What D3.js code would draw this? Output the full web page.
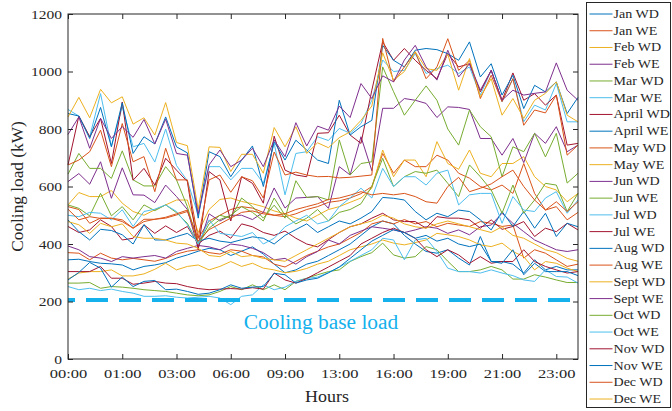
<!DOCTYPE html>
<html>
<head>
<meta charset="utf-8">
<script src="https://cdn.jsdelivr.net/npm/d3@7"></script>
<style>
  body { margin: 0; background: #fff; }
  svg text { font-family: 'Liberation Serif', 'DejaVu Serif', serif; fill: #262626; }
</style>
</head>
<body>
<div id="chart"></div>
<script>
// tick labels on the x axis (one every 5 samples) and y ticks
const hourLabels = ["00:00", "01:00", "03:00", "06:00", "09:00", "13:00", "16:00", "19:00", "21:00", "23:00"];
const loadTicks = [0, 200, 400, 600, 800, 1000, 1200];
const baseLoad = 205;

const seriesNames = ["Jan WD", "Jan WE", "Feb WD", "Feb WE", "Mar WD", "Mar WE", "April WD", "April WE",
  "May WD", "May WE", "Jun WD", "Jun WE", "Jul WD", "Jul WE", "Aug WD", "Aug WE",
  "Sept WD", "Sept WE", "Oct WD", "Oct WE", "Nov WD", "Nov WE", "Dec WD", "Dec WE"];

// matlab default colour order, cycling
const palette = ["#0072BD", "#D95319", "#EDB120", "#7E2F8E", "#77AC30", "#4DBEEE", "#A2142F"];

const janWD = [345, 347, 339, 333, 331, 327, 310, 322, 327, 335, 351, 362, 375, 385, 380, 360, 375, 390, 365, 330, 300, 310, 330, 340, 360, 380, 400, 430, 460, 480, 470, 430, 400, 374, 368, 380, 351, 327, 426, 339, 339, 330, 299, 345, 310, 322, 310, 310];
const janWE = [370, 368, 345, 368, 351, 345, 350, 345, 340, 350, 365, 375, 380, 370, 365, 380, 375, 360, 355, 330, 320, 340, 360, 375, 390, 400, 420, 440, 470, 480, 470, 485, 470, 478, 460, 472, 466, 461, 478, 472, 461, 466, 351, 380, 368, 345, 322, 330];
const febWD = [278, 299, 304, 304, 310, 289, 289, 296, 312, 333, 310, 322, 327, 310, 322, 339, 322, 333, 316, 310, 300, 305, 315, 330, 340, 360, 380, 390, 400, 414, 403, 397, 405, 414, 437, 432, 426, 414, 397, 391, 403, 374, 356, 310, 339, 333, 316, 304];
const febWE = [393, 380, 356, 351, 339, 356, 351, 356, 360, 351, 374, 385, 395, 390, 380, 400, 395, 385, 370, 345, 350, 330, 356, 374, 414, 400, 430, 445, 460, 455, 449, 440, 449, 460, 455, 437, 449, 432, 460, 466, 507, 472, 443, 414, 397, 380, 374, 380];
const marWD = [264, 264, 266, 246, 252, 250, 246, 241, 238, 235, 229, 223, 220, 223, 235, 252, 241, 258, 241, 258, 241, 270, 281, 293, 304, 310, 339, 356, 370, 403, 362, 351, 356, 391, 380, 340, 304, 304, 310, 322, 310, 278, 278, 293, 285, 275, 266, 266];
const marWE = [252, 241, 246, 238, 243, 235, 229, 218, 218, 220, 215, 212, 215, 218, 212, 189, 218, 223, 258, 241, 250, 270, 280, 285, 300, 320, 340, 360, 380, 420, 414, 345, 414, 420, 374, 316, 304, 304, 299, 310, 299, 290, 275, 270, 310, 287, 285, 264];
const aprWD = [461, 440, 449, 484, 461, 414, 420, 467, 437, 463, 440, 461, 400, 430, 445, 420, 470, 460, 440, 430, 445, 420, 400, 390, 415, 440, 460, 470, 490, 507, 484, 478, 478, 455, 495, 490, 490, 484, 455, 484, 451, 461, 478, 426, 455, 443, 472, 449];
const aprWE = [484, 443, 414, 451, 447, 432, 400, 467, 414, 414, 426, 437, 410, 420, 410, 405, 415, 425, 420, 400, 430, 450, 470, 440, 460, 480, 470, 490, 513, 562, 559, 553, 513, 484, 507, 495, 518, 513, 484, 449, 513, 461, 513, 455, 507, 426, 472, 460];
const mayWD = [530, 520, 472, 490, 490, 484, 455, 486, 486, 490, 501, 513, 420, 480, 500, 520, 530, 525, 510, 500, 495, 505, 520, 530, 545, 550, 560, 575, 600, 715, 646, 692, 669, 669, 709, 692, 646, 629, 600, 588, 605, 576, 680, 576, 518, 530, 484, 510];
const mayWE = [536, 579, 565, 565, 586, 542, 513, 500, 519, 536, 553, 553, 440, 520, 555, 560, 548, 540, 530, 515, 505, 490, 480, 500, 520, 530, 545, 560, 594, 727, 634, 692, 692, 634, 756, 680, 660, 727, 646, 634, 680, 680, 704, 634, 600, 588, 547, 576];
const junWD = [617, 645, 608, 686, 559, 665, 571, 570, 544, 605, 565, 520, 385, 505, 480, 500, 500, 485, 510, 595, 525, 560, 562, 565, 524, 669, 640, 773, 655, 872, 872, 906, 900, 889, 840, 877, 875, 868, 767, 767, 709, 767, 683, 785, 750, 808, 721, 744];
const junWE = [643, 715, 663, 663, 628, 724, 623, 602, 602, 669, 623, 530, 400, 470, 500, 490, 560, 530, 490, 535, 490, 620, 562, 565, 553, 762, 640, 680, 686, 1016, 930, 848, 900, 950, 900, 800, 744, 866, 808, 773, 634, 738, 721, 785, 703, 785, 612, 646];
const julWD = [868, 845, 773, 923, 740, 877, 738, 750, 685, 800, 673, 620, 500, 669, 669, 623, 663, 663, 611, 750, 571, 715, 721, 773, 760, 802, 785, 819, 900, 1040, 1000, 1004, 1062, 993, 1010, 1022, 993, 1016, 918, 1004, 895, 975, 825, 883, 866, 958, 825, 825];
const julWE = [675, 845, 773, 837, 680, 894, 622, 663, 605, 698, 657, 617, 380, 652, 623, 480, 634, 611, 542, 775, 657, 640, 634, 785, 787, 848, 779, 750, 935, 1103, 1039, 1080, 1039, 1004, 975, 1062, 1016, 1027, 929, 1004, 900, 995, 900, 923, 883, 918, 744, 750];
const augWD = [854, 845, 767, 875, 738, 891, 715, 773, 748, 842, 738, 717, 490, 721, 704, 634, 692, 741, 600, 756, 692, 761, 727, 692, 680, 900, 779, 808, 830, 1091, 1039, 1016, 1074, 1080, 1076, 1062, 1039, 1103, 981, 1027, 918, 987, 871, 952, 929, 964, 854, 910];
const augWE = [675, 692, 721, 796, 669, 819, 686, 704, 582, 733, 623, 623, 420, 623, 640, 580, 634, 620, 560, 720, 640, 650, 640, 634, 635, 630, 632, 636, 640, 1115, 964, 1016, 1068, 975, 1016, 1114, 1004, 1039, 906, 987, 895, 975, 813, 866, 856, 918, 709, 744];
const sepWD = [842, 910, 839, 938, 891, 912, 817, 839, 779, 892, 753, 742, 520, 738, 736, 652, 712, 712, 646, 805, 738, 808, 715, 752, 735, 770, 790, 830, 880, 1065, 970, 1000, 1069, 1010, 1004, 1060, 935, 1045, 912, 975, 848, 906, 837, 900, 924, 964, 848, 825];
const sepWE = [781, 842, 733, 837, 767, 808, 771, 833, 748, 834, 715, 709, 505, 675, 727, 669, 692, 733, 669, 762, 704, 822, 741, 810, 796, 880, 840, 958, 906, 985, 964, 1040, 1091, 1016, 970, 1074, 981, 1027, 935, 1004, 900, 935, 918, 924, 929, 1030, 935, 900];
const octWD = [536, 524, 498, 576, 498, 530, 484, 536, 516, 536, 509, 472, 400, 455, 485, 500, 530, 510, 480, 560, 500, 470, 490, 520, 480, 510, 520, 540, 600, 698, 600, 634, 652, 646, 657, 611, 565, 675, 634, 588, 507, 605, 507, 553, 611, 605, 513, 576];
const octWE = [500, 495, 510, 507, 484, 519, 461, 513, 521, 536, 513, 467, 400, 484, 437, 432, 426, 440, 400, 420, 460, 480, 500, 470, 480, 530, 560, 594, 560, 663, 600, 634, 634, 605, 646, 657, 536, 571, 576, 576, 472, 565, 518, 513, 560, 582, 507, 553];
const novWD = [304, 304, 304, 322, 281, 281, 260, 264, 270, 264, 262, 252, 245, 241, 243, 245, 243, 248, 243, 299, 275, 264, 280, 300, 320, 340, 360, 400, 420, 440, 455, 440, 420, 380, 356, 380, 362, 333, 356, 333, 339, 339, 380, 339, 322, 310, 299, 304];
const novWE = [275, 301, 336, 316, 250, 285, 252, 270, 273, 241, 243, 235, 225, 229, 241, 258, 246, 250, 252, 298, 293, 264, 275, 281, 300, 320, 350, 380, 410, 430, 450, 440, 420, 430, 410, 420, 400, 391, 400, 339, 333, 380, 293, 333, 304, 304, 304, 290];
const decWD = [521, 484, 495, 489, 489, 478, 455, 478, 486, 493, 505, 518, 410, 450, 470, 490, 510, 515, 505, 500, 505, 520, 530, 540, 555, 560, 570, 582, 571, 576, 571, 576, 565, 547, 542, 600, 632, 582, 594, 609, 634, 657, 600, 553, 518, 547, 513, 547];
const decWE = [478, 467, 437, 472, 460, 470, 426, 420, 420, 414, 403, 400, 385, 360, 356, 374, 356, 360, 350, 345, 340, 360, 380, 400, 420, 440, 460, 470, 480, 500, 490, 470, 460, 455, 470, 480, 470, 460, 450, 440, 460, 430, 420, 400, 380, 370, 350, 340];

const seriesValues = [janWD, janWE, febWD, febWE, marWD, marWE, aprWD, aprWE, mayWD, mayWE, junWD, junWE,
  julWD, julWE, augWD, augWE, sepWD, sepWE, octWD, octWE, novWD, novWE, decWD, decWE];

const series = seriesNames.map((name, i) => ({ name, values: seriesValues[i], color: palette[i % palette.length] }));

const width = 672, height = 411;
const margin = { top: 14, right: 94, bottom: 52, left: 68 };
const plotW = width - margin.left - margin.right;   // 510
const plotH = height - margin.top - margin.bottom;  // 345
const ink = "#262626";
const serif = "'Liberation Serif', 'DejaVu Serif', serif";

// times looks a bit wide in the original, so text gets stretched
function stretch(sel, k) {
  sel.each(function () {
    const w = this.getComputedTextLength();
    d3.select(this).attr("textLength", w * k).attr("lengthAdjust", "spacingAndGlyphs");
  });
}

const svg = d3.select("#chart").append("svg")
  .attr("width", width)
  .attr("height", height)
  .attr("font-family", serif);

const plot = svg.append("g")
  .attr("transform", `translate(${margin.left},${margin.top})`);

const nPts = janWD.length;
const x = d3.scaleLinear().domain([0, nPts - 1]).range([0, plotW]);
const y = d3.scaleLinear().domain([0, 1200]).range([plotH, 0]);

const line = d3.line()
  .x((d, i) => x(i))
  .y(d => y(d));

plot.selectAll(".series")
  .data(series)
  .enter()
  .append("path")
    .attr("class", "series")
    .attr("fill", "none")
    .attr("stroke", d => d.color)
    .attr("stroke-width", 1)
    .attr("stroke-linejoin", "round")
    .attr("d", d => line(d.values));

// base load
plot.append("line")
  .attr("x1", 0).attr("x2", plotW)
  .attr("y1", y(baseLoad)).attr("y2", y(baseLoad))
  .attr("stroke", "#14B1EC")
  .attr("stroke-width", 4)
  .attr("stroke-dasharray", "22 11")
  .attr("stroke-dashoffset", 15);

plot.append("text")
  .attr("x", 253)
  .attr("y", 315)
  .attr("text-anchor", "middle")
  .attr("font-family", serif)
  .style("font-size", "20px")
  .style("fill", "#14B1EC")
  .text("Cooling base load")
  .call(stretch, 1.07);

// axes, matlab style: inward ticks, mirrored on top and right
const xTicks = d3.range(0, nPts, 5);

const xAxis = d3.axisBottom(x)
  .tickValues(xTicks)
  .tickFormat((d, i) => hourLabels[i])
  .tickSizeInner(-5).tickSizeOuter(0).tickPadding(9);

const yAxis = d3.axisLeft(y)
  .tickValues(loadTicks)
  .tickFormat(d3.format("d"))
  .tickSizeInner(-5).tickSizeOuter(0).tickPadding(6);

const gx = plot.append("g")
  .attr("transform", `translate(0,${plotH})`)
  .call(xAxis);
const gy = plot.append("g").call(yAxis);

plot.append("g").call(d3.axisTop(x).tickValues(xTicks).tickFormat("").tickSizeInner(-5).tickSizeOuter(0));
plot.append("g").attr("transform", `translate(${plotW},0)`)
  .call(d3.axisRight(y).tickValues(loadTicks).tickFormat("").tickSizeInner(-5).tickSizeOuter(0));

plot.selectAll("g").attr("font-family", serif);
plot.selectAll(".domain").remove();
plot.selectAll(".tick line").attr("stroke", ink);
plot.selectAll(".tick text").style("font-size", "13.5px").attr("fill", ink);
gx.selectAll(".tick text").call(stretch, 1.22);
gy.selectAll(".tick text").call(stretch, 1.15);

plot.append("rect")
  .attr("width", plotW).attr("height", plotH)
  .attr("fill", "none")
  .attr("stroke", ink)
  .attr("stroke-width", 1);

// axis titles
svg.append("text")
  .attr("x", margin.left + plotW / 2 + 4)
  .attr("y", 402)
  .attr("text-anchor", "middle")
  .style("font-size", "16px")
  .text("Hours")
  .call(stretch, 1.12);

svg.append("text")
  .attr("transform", `translate(23,${margin.top + plotH / 2}) rotate(-90)`)
  .attr("text-anchor", "middle")
  .style("font-size", "16px")
  .text("Cooling load (kW)")
  .call(stretch, 1.08);

// legend
const legend = svg.append("g").attr("transform", "translate(586.5,2.5)");
legend.append("rect")
  .attr("width", 84).attr("height", 405)
  .attr("fill", "#fff")
  .attr("stroke", ink)
  .attr("stroke-width", 1);

const rowH = 16.74;
const item = legend.selectAll(".item")
  .data(series)
  .enter()
  .append("g")
    .attr("class", "item")
    .attr("transform", (d, i) => `translate(0,${11.5 + i * rowH})`);

item.append("line")
  .attr("x1", 3).attr("x2", 26)
  .attr("stroke", d => d.color)
  .attr("stroke-width", 1);

item.append("text")
  .attr("x", 27)
  .attr("dy", "0.33em")
  .style("font-size", "12px")
  .text(d => d.name)
  .call(stretch, 1.17);
</script>
</body>
</html>
